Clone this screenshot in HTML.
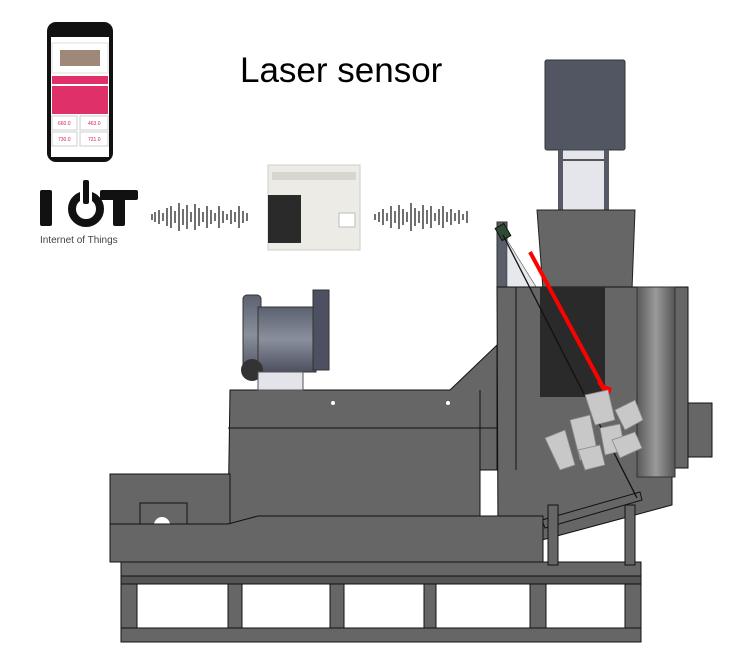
<!DOCTYPE html>
<html><head><meta charset="utf-8"><style>
html,body{margin:0;padding:0;background:#fff;width:756px;height:667px;overflow:hidden}
svg{display:block}
text{font-family:"Liberation Sans",sans-serif}
</style></head><body>
<svg width="756" height="667" viewBox="0 0 756 667" xmlns="http://www.w3.org/2000/svg">
<defs>
<linearGradient id="cyl" x1="0" x2="1"><stop offset="0" stop-color="#5a5a5a"/><stop offset="0.5" stop-color="#9a9a9a"/><stop offset="1" stop-color="#555"/></linearGradient>
<linearGradient id="blw" x1="0" x2="0" y1="0" y2="1"><stop offset="0" stop-color="#5c6170"/><stop offset="0.5" stop-color="#8a8f9c"/><stop offset="1" stop-color="#4c5060"/></linearGradient>
</defs>
<!-- phone -->
<rect x="47" y="22" width="66" height="140" rx="9" fill="#111"/>
<rect x="51" y="37" width="58" height="120" fill="#fff"/>
<rect x="52" y="43" width="56" height="30" fill="#fff" stroke="#ddd"/>
<rect x="60" y="50" width="40" height="16" fill="#a08878"/>
<rect x="52" y="86" width="56" height="28" fill="#e0306a"/>
<rect x="52" y="76" width="56" height="8" fill="#e0306a"/>
<rect x="52" y="116" width="25" height="14" fill="#fff" stroke="#ccc"/>
<rect x="80" y="116" width="28" height="14" fill="#fff" stroke="#ccc"/>
<rect x="52" y="132" width="25" height="14" fill="#fff" stroke="#ccc"/>
<rect x="80" y="132" width="28" height="14" fill="#fff" stroke="#ccc"/>
<text x="58" y="125" font-size="5" fill="#d02060">660.0</text>
<text x="88" y="125" font-size="5" fill="#d02060">463.0</text>
<text x="58" y="141" font-size="5" fill="#d02060">730.0</text>
<text x="88" y="141" font-size="5" fill="#d02060">721.0</text>
<!-- IOT -->
<rect x="40" y="190" width="12" height="36" rx="2" fill="#111"/>
<circle cx="86" cy="209" r="14" fill="none" stroke="#111" stroke-width="8"/>
<rect x="80" y="182" width="12" height="26" fill="#fff"/>
<rect x="83" y="180" width="6" height="24" rx="2" fill="#111"/>
<rect x="100" y="190" width="38" height="10" rx="2" fill="#111"/>
<rect x="113" y="190" width="12" height="36" rx="2" fill="#111"/>
<text x="40" y="243" font-size="10" fill="#444">Internet of Things</text>
<!-- waves -->
<g stroke="#222" stroke-width="1.3">
<path d="M152 214v6M155 212v10M159 210v14M163 213v8M167 208v18M171 206v22M175 211v12M179 203v28M183 209v16M187 205v24M191 212v10M195 204v26M199 208v18M203 212v10M207 206v22M211 210v14M215 213v8M219 206v22M223 211v12M227 214v6M231 210v14M235 212v10M239 206v22M243 211v12M247 213v8"/>
<path d="M375 214v6M379 212v10M383 209v16M387 213v8M391 206v22M395 211v12M399 205v24M403 209v16M407 212v10M411 203v28M415 208v18M419 211v12M423 205v24M427 210v14M431 206v22M435 213v8M439 209v16M443 206v22M447 212v10M451 209v16M455 213v8M459 210v14M463 214v6M467 211v12"/>
</g>
<!-- PLC -->
<rect x="268" y="165" width="92" height="85" fill="#ecebe6" stroke="#ccc"/>
<rect x="272" y="172" width="84" height="8" fill="#d6d5d0"/>
<rect x="268" y="195" width="33" height="48" fill="#2a2a2a"/>
<rect x="339" y="213" width="16" height="14" fill="#fff" stroke="#bbb"/>
<!-- title -->
<text x="240" y="82" font-size="35" fill="#000">Laser sensor</text>
<!-- motor box -->
<rect x="545" y="60" width="80" height="90" rx="2" fill="#525662" stroke="#333"/>
<rect x="559" y="150" width="48" height="60" fill="#e4e6ec" stroke="#444"/>
<rect x="558" y="150" width="5" height="60" fill="#555a66"/>
<rect x="604" y="150" width="5" height="60" fill="#555a66"/>
<line x1="563" y1="160" x2="604" y2="160" stroke="#555" stroke-width="2"/>
<!-- hopper -->
<polygon points="537,210 635,210 632,290 543,290" fill="#666" stroke="#222"/>
<!-- sensor bracket -->
<polygon points="497,222 507,222 507,290 497,290" fill="#5a5e6a" stroke="#333"/>
<polygon points="507,240 538,290 507,290" fill="#e6e8ee" stroke="#555" stroke-width="0.6"/>
<rect x="498" y="225" width="10" height="14" fill="#2d4a34" stroke="#111" transform="rotate(-30 503 232)"/>
<!-- right big box -->
<polygon points="497,287 688,287 688,468 672,468 672,505 542,540 498,540" fill="#666" stroke="#111"/>
<rect x="540" y="287" width="65" height="110" fill="#2a2a2a"/>
<rect x="637" y="287" width="38" height="190" fill="url(#cyl)" stroke="#333"/>
<rect x="688" y="403" width="24" height="54" fill="#666" stroke="#111"/>
<line x1="516" y1="287" x2="516" y2="470" stroke="#111"/>
<polygon points="542,520 640,492 642,500 545,528" fill="#666" stroke="#111"/>
<!-- black rod -->
<line x1="503" y1="235" x2="637" y2="498" stroke="#111" stroke-width="1.3"/>
<!-- laser -->
<line x1="530" y1="252" x2="603" y2="387" stroke="#f00" stroke-width="4"/>
<polygon points="597,382 612,388 608,400" fill="#f00"/>
<!-- ingots -->
<g fill="#c8c8c8" stroke="#888" stroke-width="0.8">
<polygon points="585,395 608,390 615,420 595,425"/>
<polygon points="615,410 635,400 643,420 625,430"/>
<polygon points="545,438 565,430 575,465 560,470"/>
<polygon points="570,420 590,415 598,455 580,460"/>
<polygon points="600,428 620,424 625,450 605,455"/>
<polygon points="612,440 635,432 642,448 620,458"/>
<polygon points="578,450 600,445 605,465 585,470"/>
</g>
<!-- main body -->
<polygon points="230,390 450,390 497,345 497,470 480,470 480,525 228,525" fill="#666" stroke="#111"/>
<line x1="228" y1="428" x2="497" y2="428" stroke="#111"/>
<line x1="480" y1="390" x2="480" y2="470" stroke="#111"/>
<circle cx="333" cy="403" r="2" fill="#fff"/><circle cx="448" cy="403" r="2" fill="#fff"/>
<!-- blower -->
<rect x="243" y="295" width="18" height="80" rx="4" fill="url(#blw)" stroke="#333"/>
<rect x="258" y="307" width="58" height="65" fill="url(#blw)" stroke="#333"/>
<rect x="313" y="290" width="16" height="80" fill="#4c5060" stroke="#333"/>
<circle cx="252" cy="370" r="11" fill="#333"/>
<rect x="258" y="372" width="45" height="18" fill="#e2e4ea" stroke="#555"/>
<!-- left box -->
<rect x="110" y="474" width="120" height="50" fill="#666" stroke="#111"/>
<rect x="140" y="503" width="47" height="22" fill="#666" stroke="#111"/>
<path d="M154 525a8 8 0 0 1 16 0z" fill="#fff"/>
<!-- lower slab -->
<polygon points="110,524 228,524 258,516 543,516 543,562 110,562" fill="#666" stroke="#111"/>
<!-- frame -->
<rect x="121" y="562" width="520" height="14" fill="#666" stroke="#111"/>
<rect x="121" y="576" width="520" height="8" fill="#555" stroke="#111"/>
<rect x="121" y="628" width="520" height="14" fill="#666" stroke="#111"/>
<g fill="#666" stroke="#111">
<rect x="121" y="584" width="16" height="44"/><rect x="228" y="584" width="14" height="44"/>
<rect x="330" y="584" width="14" height="44"/><rect x="424" y="584" width="12" height="44"/>
<rect x="530" y="584" width="16" height="44"/><rect x="625" y="584" width="16" height="44"/>
<rect x="548" y="505" width="10" height="60"/><rect x="625" y="505" width="10" height="60"/>
</g>
</svg>
</body></html>
